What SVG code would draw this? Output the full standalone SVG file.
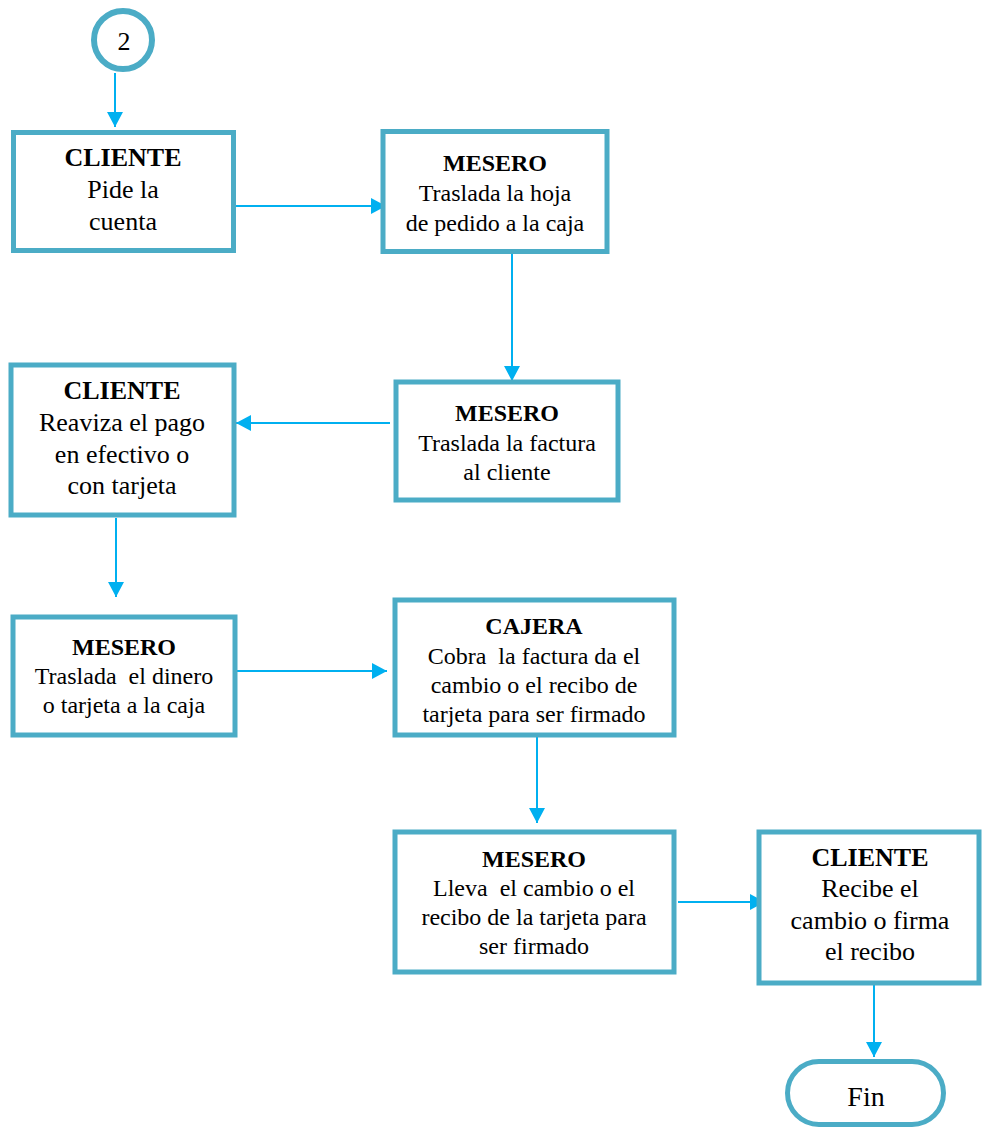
<svg xmlns="http://www.w3.org/2000/svg" width="982" height="1129" viewBox="0 0 982 1129">
<style>
.box{fill:#fff;stroke:#4BACC6;stroke-width:5}
.t{font-family:"Liberation Serif","Times New Roman",serif;fill:#000;text-anchor:middle;white-space:pre}
.s24{font-size:24px}
.s26{font-size:26px}
.b{font-weight:bold}
.c{stroke:#00B0F0;stroke-width:2;fill:none}
</style>
<defs>
<marker id="ah" markerUnits="userSpaceOnUse" markerWidth="16" markerHeight="16" viewBox="0 0 16 16" refX="15" refY="8" orient="auto">
<path d="M0,0 L15,8 L0,16 Z" fill="#00B0F0"/>
</marker>
</defs>
<rect width="982" height="1129" fill="#fff"/>
<g id="connectors">
<line class="c" x1="115" y1="73" x2="115" y2="127" marker-end="url(#ah)"/>
<line class="c" x1="232" y1="206" x2="386" y2="206" marker-end="url(#ah)"/>
<line class="c" x1="512" y1="245" x2="512" y2="381" marker-end="url(#ah)"/>
<line class="c" x1="390" y1="423" x2="236" y2="423" marker-end="url(#ah)"/>
<line class="c" x1="116" y1="518" x2="116" y2="597" marker-end="url(#ah)"/>
<line class="c" x1="232" y1="671" x2="387" y2="671" marker-end="url(#ah)"/>
<line class="c" x1="537" y1="731" x2="537" y2="823" marker-end="url(#ah)"/>
<line class="c" x1="678" y1="902" x2="765" y2="902" marker-end="url(#ah)"/>
<line class="c" x1="874" y1="975" x2="874" y2="1057" marker-end="url(#ah)"/>
</g>
<g id="start">
<circle cx="123" cy="40" r="29" fill="#fff" stroke="#4BACC6" stroke-width="6"/>
<text class="t s26" x="124" y="50">2</text>
</g>
<g id="n1">
<rect class="box" x="13.5" y="132.5" width="220" height="118"/>
<text class="t s26 b" x="123" y="166">CLIENTE</text>
<text class="t s26" x="123" y="198">Pide la</text>
<text class="t s26" x="123" y="230">cuenta</text>
</g>
<g id="n2">
<rect class="box" x="383" y="131.5" width="224" height="120"/>
<text class="t s24 b" x="495" y="171">MESERO</text>
<text class="t s24" x="495" y="201">Traslada la hoja</text>
<text class="t s24" x="495" y="231">de pedido a la caja</text>
</g>
<g id="n3">
<rect class="box" x="11" y="365" width="223" height="150"/>
<text class="t s26 b" x="122" y="399">CLIENTE</text>
<text class="t s26" x="122" y="431">Reaviza el pago</text>
<text class="t s26" x="122" y="463">en efectivo o</text>
<text class="t s26" x="122" y="494">con tarjeta</text>
</g>
<g id="n4">
<rect class="box" x="396" y="382" width="222" height="118"/>
<text class="t s24 b" x="507" y="421">MESERO</text>
<text class="t s24" x="507" y="451">Traslada la factura</text>
<text class="t s24" x="507" y="480">al cliente</text>
</g>
<g id="n5">
<rect class="box" x="13" y="617" width="222" height="118"/>
<text class="t s24 b" x="124" y="655">MESERO</text>
<text class="t s24" x="124" y="684">Traslada  el dinero</text>
<text class="t s24" x="124" y="713">o tarjeta a la caja</text>
</g>
<g id="n6">
<rect class="box" x="395" y="600" width="279" height="135"/>
<text class="t s24 b" x="534" y="634">CAJERA</text>
<text class="t s24" x="534" y="664">Cobra  la factura da el</text>
<text class="t s24" x="534" y="693">cambio o el recibo de</text>
<text class="t s24" x="534" y="722">tarjeta para ser firmado</text>
</g>
<g id="n7">
<rect class="box" x="395" y="832" width="279" height="140"/>
<text class="t s24 b" x="534" y="867">MESERO</text>
<text class="t s24" x="534" y="896">Lleva  el cambio o el</text>
<text class="t s24" x="534" y="925">recibo de la tarjeta para</text>
<text class="t s24" x="534" y="954">ser firmado</text>
</g>
<g id="n8">
<rect class="box" x="759" y="832" width="220" height="151"/>
<text class="t s26 b" x="870" y="866">CLIENTE</text>
<text class="t s26" x="870" y="897">Recibe el</text>
<text class="t s26" x="870" y="929">cambio o firma</text>
<text class="t s26" x="870" y="960">el recibo</text>
</g>
<g id="end">
<rect class="box" x="787.5" y="1061.5" width="156" height="63" rx="31.5"/>
<text class="t" style="font-size:28px" x="866" y="1106">Fin</text>
</g>
</svg>
